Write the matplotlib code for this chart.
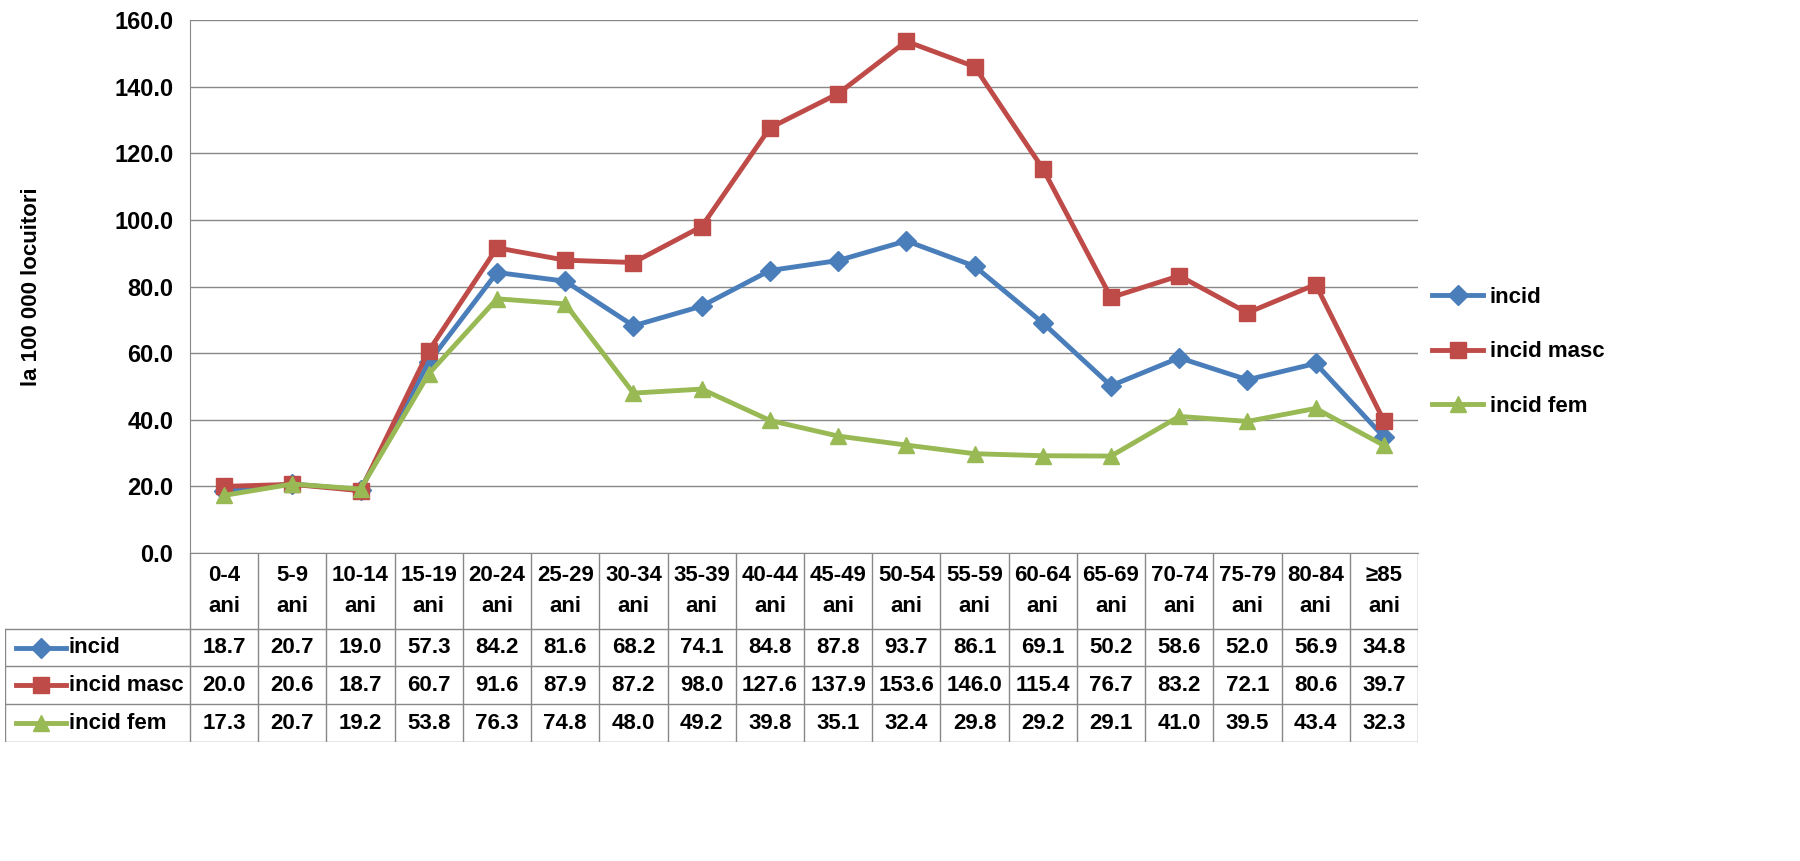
import matplotlib.pyplot as plt
from matplotlib.lines import Line2D

categories = ["0-4\nani", "5-9\nani", "10-14\nani", "15-19\nani", "20-24\nani", "25-29\nani",
              "30-34\nani", "35-39\nani", "40-44\nani", "45-49\nani", "50-54\nani", "55-59\nani",
              "60-64\nani", "65-69\nani", "70-74\nani", "75-79\nani", "80-84\nani", "≥85\nani"]
incid = [18.7, 20.7, 19.0, 57.3, 84.2, 81.6, 68.2, 74.1, 84.8, 87.8, 93.7, 86.1, 69.1, 50.2, 58.6, 52.0, 56.9, 34.8]
incid_masc = [20.0, 20.6, 18.7, 60.7, 91.6, 87.9, 87.2, 98.0, 127.6, 137.9, 153.6, 146.0, 115.4, 76.7, 83.2, 72.1, 80.6, 39.7]
incid_fem = [17.3, 20.7, 19.2, 53.8, 76.3, 74.8, 48.0, 49.2, 39.8, 35.1, 32.4, 29.8, 29.2, 29.1, 41.0, 39.5, 43.4, 32.3]

series = [("incid", incid, "#4a7ebb", "D", 10),
          ("incid masc", incid_masc, "#be4b48", "s", 12),
          ("incid fem", incid_fem, "#98b954", "^", 12)]

plt.rcParams['font.family'] = ['Liberation Sans', 'DejaVu Sans']
plt.rcParams['font.weight'] = 'bold'
FS = 16

W, H = 1800, 861
fig = plt.figure(figsize=(18, 8.61), dpi=100)
L, R, T, B = 190, 1418, 20, 553
ax = fig.add_axes([L / W, 1 - B / H, (R - L) / W, (B - T) / H])
n = len(categories)
x = list(range(n))
for name, vals, col, mk, ms in series:
    ax.plot(x, vals, color=col, lw=3.5, marker=mk, ms=ms, label=name)
ax.set_xlim(-0.5, n - 0.5)
ax.set_ylim(0, 160)
ax.set_yticks(range(0, 161, 20))
ax.set_yticklabels([f"{v:.1f}" for v in range(0, 161, 20)], fontsize=17)
ax.set_xticks([])
ax.yaxis.grid(True, color="#888888", lw=1)
ax.set_axisbelow(True)
for s in ["top", "right"]:
    ax.spines[s].set_visible(False)
ax.spines["left"].set_color("#888888")
ax.spines["bottom"].set_color("#888888")
ax.tick_params(axis="y", length=0, pad=12)
ax.set_ylabel("la 100 000 locuitori", fontsize=FS, fontweight="bold", labelpad=52)

fig.legend(loc="center left", bbox_to_anchor=(1412 / W, 1 - 352 / H), frameon=False,
           fontsize=FS, handlelength=2.3, handletextpad=0.3, labelspacing=1.5)

# data table below
TL, TB = 5, 742
tax = fig.add_axes([TL / W, 1 - TB / H, (R - TL) / W, (TB - B) / H])
x0 = (L - TL) / (R - TL)
tax.set_xlim(0, 1)
tax.axis("off")
cw = (1 - x0) / n
gc = "#888888"
hdr = 1.6
rows_y = [hdr, hdr + 0.8, hdr + 1.6, hdr + 2.4]
tax.set_ylim(rows_y[-1], 0)
for i, c in enumerate(categories):
    tax.text(x0 + cw * (i + 0.5), hdr / 2, c, ha="center", va="center", fontsize=FS, linespacing=1.6)
for i in range(n + 1):
    tax.plot([x0 + cw * i] * 2, [0, rows_y[-1]], color=gc, lw=1)
tax.plot([0, 0], [hdr, rows_y[-1]], color=gc, lw=1)
for yy in rows_y:
    tax.plot([0, 1], [yy, yy], color=gc, lw=1)
for r, (name, vals, col, mk, ms) in enumerate(series):
    yc = (rows_y[r] + rows_y[r + 1]) / 2
    tax.add_line(Line2D([0.008, 0.043], [yc, yc], color=col, lw=3.5))
    tax.plot([0.0255], [yc], marker=mk, color=col, ms=ms)
    tax.text(0.045, yc, name, ha="left", va="center", fontsize=FS)
    for i, v in enumerate(vals):
        tax.text(x0 + cw * (i + 0.5), yc, f"{v:.1f}", ha="center", va="center", fontsize=FS)

fig.savefig("out.png", dpi=100)
